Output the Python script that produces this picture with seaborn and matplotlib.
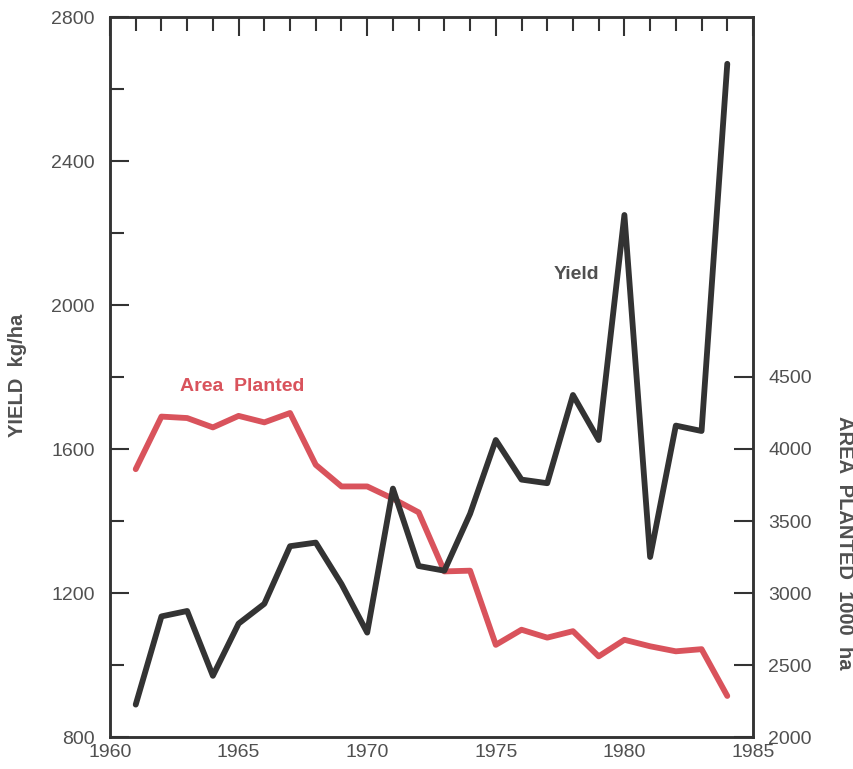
import numpy as np
import pandas as pd
import matplotlib
matplotlib.use("Agg")
import matplotlib.pyplot as plt
import seaborn as sns
from matplotlib.ticker import MultipleLocator

years = list(range(1961, 1985))
yield_kg_ha = [890, 1135, 1150, 970, 1115, 1170, 1330, 1340, 1225, 1090,
               1490, 1275, 1262, 1420, 1625, 1515, 1505, 1750, 1625, 2250,
               1300, 1665, 1650, 2670]
area_planted = [3860, 4225, 4215, 4150, 4230, 4185, 4250, 3890, 3740, 3740,
                3655, 3560, 3150, 3155, 2640, 2745, 2690, 2735, 2560, 2675,
                2630, 2595, 2610, 2285]

df = pd.DataFrame({"Year": years, "Yield": yield_kg_ha, "Area": area_planted})

sns.set_style("white")
plt.rcParams["font.family"] = ["Liberation Sans", "DejaVu Sans"]

dark = "#333333"
red = "#d9535c"
txt = "#505050"

fig = plt.figure(figsize=(8.54, 7.69), dpi=100)
ax = fig.add_axes([110/854, 1-737/769, (753-110)/854, (737-17)/769])
ax2 = ax.twinx()

sns.lineplot(data=df, x="Year", y="Area", ax=ax2, color=red, linewidth=4.2)
sns.lineplot(data=df, x="Year", y="Yield", ax=ax, color=dark, linewidth=4.2)
ax.set_zorder(ax2.get_zorder() + 1)
ax.patch.set_visible(False)

ax.set_xlim(1960, 1985)
ax.set_ylim(800, 2800)
ax2.set_ylim(2000, 7000)

ax.xaxis.set_major_locator(MultipleLocator(5))
ax.xaxis.set_minor_locator(MultipleLocator(1))
ax.yaxis.set_major_locator(MultipleLocator(400))
ax.yaxis.set_minor_locator(MultipleLocator(200))
ax2.set_yticks([2000, 2500, 3000, 3500, 4000, 4500])

ax.tick_params(axis="both", which="major", direction="in", length=14, width=1.5,
               color=dark, labelsize=14, labelcolor=txt, top=True, pad=11)
ax.tick_params(axis="both", which="minor", direction="in", length=10, width=1.5,
               color=dark, top=True)
ax.tick_params(axis="x", which="major", pad=5)
ax.tick_params(axis="y", which="both", right=False)
ax2.tick_params(axis="y", direction="in", length=14, width=1.5, color=dark,
                labelsize=14, labelcolor=txt, pad=11)

for a in (ax, ax2):
    for s in a.spines.values():
        s.set_color(dark)
        s.set_linewidth(1.8)

ax.set_xlabel("")
ax.set_ylabel("")
ax2.set_ylabel("")

fig.text(18/854, 1-375/769, "YIELD  kg/ha", rotation=90, ha="center", va="center",
         fontsize=14.5, fontweight="bold", color=txt)
fig.text(845/854, 1-543/769, "AREA  PLANTED  1000  ha", rotation=270, ha="center",
         va="center", fontsize=14.5, fontweight="bold", color=txt)
ax.text(1965.15, 1775, "Area  Planted", ha="center", va="center", fontsize=14,
        fontweight="bold", color=red)
ax.text(1978.15, 2086, "Yield", ha="center", va="center", fontsize=14,
        fontweight="bold", color=txt)

fig.savefig("out.png", dpi=100)
